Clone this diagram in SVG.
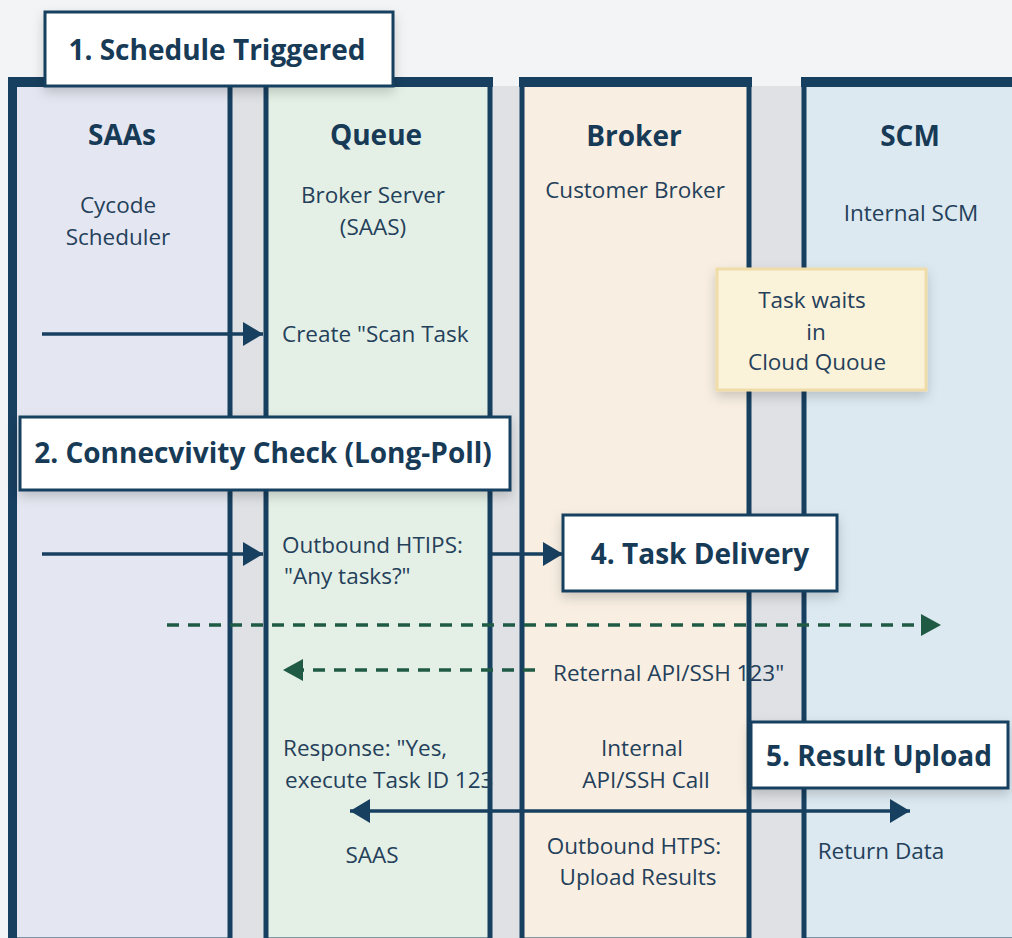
<svg xmlns="http://www.w3.org/2000/svg" width="1012" height="938" viewBox="0 0 1012 938">
<style>
.lane{stroke:#173f5f;stroke-width:5}
.bar{fill:#173f5f}
.h{font-family:"Open Sans","Liberation Sans",sans-serif;font-weight:700;font-size:28px;fill:#173a56;text-anchor:middle}
.t{font-family:"Open Sans","Liberation Sans",sans-serif;font-size:22.5px;fill:#24405a}
.c{text-anchor:middle}
.step{fill:#ffffff;stroke:#173f5f;stroke-width:3}
.st{font-family:"Open Sans","Liberation Sans",sans-serif;font-weight:700;font-size:28px;fill:#173a56}
.solid{stroke:#173f5f;stroke-width:3.5;fill:none}
.dash{stroke:#1f5a45;stroke-width:3.5;fill:none;stroke-dasharray:12 9}
</style>
<defs>
<filter id="sh" x="-20%" y="-30%" width="140%" height="170%">
<feDropShadow dx="0" dy="5" stdDeviation="6" flood-color="#000" flood-opacity="0.18"/>
</filter>
<marker id="an" markerWidth="20" markerHeight="24" refX="20" refY="12" orient="auto" markerUnits="userSpaceOnUse">
<path d="M0,0 L20,12 L0,24 Z" fill="#173f5f"/>
</marker>
<marker id="ans" markerWidth="20" markerHeight="24" refX="0" refY="12" orient="auto" markerUnits="userSpaceOnUse">
<path d="M20,0 L0,12 L20,24 Z" fill="#173f5f"/>
</marker>
<marker id="ag" markerWidth="20" markerHeight="22" refX="20" refY="11" orient="auto" markerUnits="userSpaceOnUse">
<path d="M0,0 L20,11 L0,22 Z" fill="#1f5a45"/>
</marker>
</defs>
<rect x="0" y="0" width="1012" height="938" fill="#f3f4f5"/>
<rect x="230" y="86" width="36" height="852" fill="#dfe1e4"/>
<rect x="490" y="86" width="32" height="852" fill="#dfe1e4"/>
<rect x="749" y="86" width="55" height="852" fill="#dfe1e4"/>

<g id="lane-saas">
<rect class="lane" x="12" y="82" width="218" height="858" fill="#e4e7f1"/>
<rect class="bar" x="8" y="77" width="225" height="10"/>
<rect class="bar" x="8" y="77" width="9" height="861"/>
<text class="h" x="122" y="145">SAAs</text>
<text class="t c" x="118" y="213">Cycode</text>
<text class="t c" x="118" y="245">Scheduler</text>
</g>
<g id="lane-queue">
<rect class="lane" x="266" y="82" width="224" height="858" fill="#e4f0e6"/>
<rect class="bar" x="263" y="77" width="230" height="10"/>
<text class="h" x="376" y="145">Queue</text>
<text class="t c" x="373" y="203">Broker Server</text>
<text class="t c" x="373" y="235">(SAAS)</text>
<text class="t" x="282" y="342">Create "Scan Task</text>
<text class="t" x="282" y="553">Outbound HTIPS:</text>
<text class="t" x="284" y="584">"Any tasks?"</text>
<text class="t" x="283" y="756">Response: "Yes,</text>
<text class="t" x="285" y="788">execute Task ID 123</text>
<text class="t c" x="372" y="863">SAAS</text>
</g>
<g id="lane-broker">
<rect class="lane" x="522" y="82" width="227" height="858" fill="#f8efe2"/>
<rect class="bar" x="519" y="77" width="233" height="10"/>
<text class="h" x="634" y="146">Broker</text>
<text class="t c" x="635" y="198">Customer Broker</text>
<text class="t" x="553" y="681">Reternal API/SSH 123"</text>
<text class="t c" x="642" y="756">Internal</text>
<text class="t c" x="646" y="788">API/SSH Call</text>
<text class="t c" x="634" y="854">Outbound HTPS:</text>
<text class="t c" x="638" y="885">Upload Results</text>
</g>
<g id="lane-scm">
<rect class="lane" x="804" y="82" width="220" height="858" fill="#dce9f0"/>
<rect class="bar" x="801" y="77" width="215" height="10"/>
<text class="h" x="910" y="146">SCM</text>
<text class="t c" x="911" y="221">Internal SCM</text>
<text class="t c" x="881" y="859">Return Data</text>
</g>

<g id="connectors">
<line class="solid" x1="42" y1="334" x2="263" y2="334" marker-end="url(#an)"/>
<line class="solid" x1="42" y1="554" x2="263" y2="554" marker-end="url(#an)"/>
<line class="solid" x1="490" y1="554" x2="563" y2="554" marker-end="url(#an)"/>
<line class="dash" x1="167" y1="625" x2="941" y2="625" marker-end="url(#ag)"/>
<line class="dash" x1="535" y1="670" x2="283" y2="670" marker-end="url(#ag)"/>
<line class="solid" x1="350" y1="811" x2="910" y2="811" stroke-width="4" marker-start="url(#ans)" marker-end="url(#an)"/>
</g>

<g id="note-wait">
<rect x="717" y="269" width="209" height="121" fill="#fbf3d9" stroke="#efdca8" stroke-width="3" filter="url(#sh)"/>
<text class="t c" x="812" y="308">Task waits</text>
<text class="t c" x="816" y="340">in</text>
<text class="t c" x="817" y="370">Cloud Quoue</text>
</g>
<g id="step1">
<rect class="step" x="45" y="12" width="348" height="74" filter="url(#sh)"/>
<text class="st" x="217" y="60" text-anchor="middle">1. Schedule Triggered</text>
</g>
<g id="step2">
<rect class="step" x="20" y="417" width="490" height="73" filter="url(#sh)"/>
<text class="st" x="263" y="463" text-anchor="middle">2. Connecvivity Check (Long-Poll)</text>
</g>
<g id="step4">
<rect class="step" x="563" y="515" width="274" height="76" filter="url(#sh)"/>
<text class="st" x="700" y="564" text-anchor="middle">4. Task Delivery</text>
</g>
<g id="step5">
<rect class="step" x="751" y="722" width="257" height="66" filter="url(#sh)"/>
<text class="st" x="879" y="766" text-anchor="middle">5. Result Upload</text>
</g>
</svg>
